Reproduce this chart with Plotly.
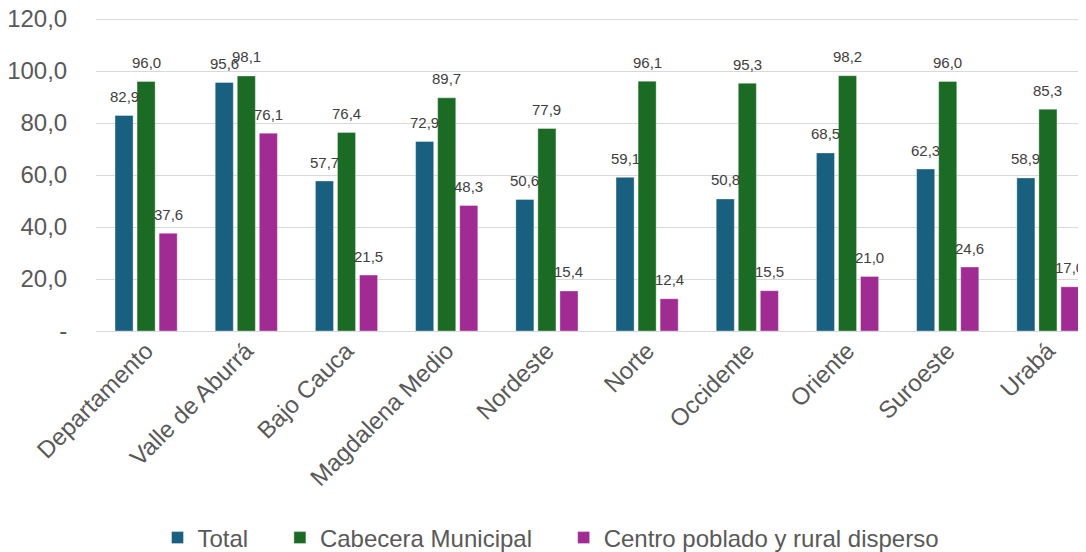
import plotly.graph_objects as go

regions = ["Departamento", "Valle de Aburrá", "Bajo Cauca", "Magdalena Medio",
           "Nordeste", "Norte", "Occidente", "Oriente", "Suroeste", "Urabá"]
total = [82.9, 95.6, 57.7, 72.9, 50.6, 59.1, 50.8, 68.5, 62.3, 58.9]
cabecera = [96.0, 98.1, 76.4, 89.7, 77.9, 96.1, 95.3, 98.2, 96.0, 85.3]
rural = [37.6, 76.1, 21.5, 48.3, 15.4, 12.4, 15.5, 21.0, 24.6, 17.0]

series_names = ["Total", "Cabecera Municipal", "Centro poblado y rural disperso"]
series_colors = ["#185f80", "#1b6b25", "#a02b93"]
y_ticks = [0, 20, 40, 60, 80, 100, 120]
y_tick_text = ["-", "20,0", "40,0", "60,0", "80,0", "100,0", "120,0"]

FONT = "Liberation Sans, Arial, sans-serif"
GREY = "#595959"
PAD = "\u00a0" * 4  # wider gap between legend entries, like the original

def fmt(v):
    return f"{v:.1f}".replace(".", ",")

fig = go.Figure()
all_series = [total, cabecera, rural]
for i, (name, vals, color) in enumerate(zip(series_names, all_series, series_colors)):
    label = name + (PAD if i < 2 else "")
    fig.add_trace(go.Bar(
        x=regions, y=vals, name=label,
        marker=dict(color=color, line=dict(color="rgba(255,255,255,0.6)", width=0.6)),
    ))

# data labels above each bar, shifted to the bar's slot inside the group
offsets = [-22, 0, 22]
for vals, dx in zip(all_series, offsets):
    for cat, v in zip(regions, vals):
        fig.add_annotation(
            x=cat, y=v, text=fmt(v), showarrow=False,
            xshift=dx, yshift=19, yanchor="middle",
            font=dict(family=FONT, size=15, color="#404040"),
        )

# page body has an 8px margin, so the figure is 8px smaller than the window
fig.update_layout(
    width=1078, height=544,
    paper_bgcolor="white", plot_bgcolor="white",
    barmode="group", bargap=0.34, bargroupgap=0.18,
    margin=dict(l=88, r=0, t=10, b=221),
    font=dict(family=FONT, size=24, color=GREY),
    showlegend=True,
    legend=dict(
        orientation="h", x=0.4596, xanchor="center",
        yref="container", y=0.0257, yanchor="middle",
        font=dict(family=FONT, size=24, color=GREY),
        traceorder="normal",
    ),
    xaxis=dict(
        range=[-0.5, 9.38], tickangle=-45, showgrid=False, automargin=False,
        showline=False, ticks="", tickfont=dict(size=24, color=GREY),
    ),
    yaxis=dict(
        range=[0, 120.4], tickvals=y_ticks, ticktext=y_tick_text, automargin=False,
        ticklabeloverflow="allow",
        showgrid=True, gridcolor="#d9d9d9", gridwidth=1.3,
        zeroline=True, zerolinecolor="#d9d9d9", zerolinewidth=1.3,
        ticks="outside", ticklen=23, tickcolor="rgba(0,0,0,0)",
        tickfont=dict(size=24, color=GREY),
    ),
)

fig.write_html("out.html")
